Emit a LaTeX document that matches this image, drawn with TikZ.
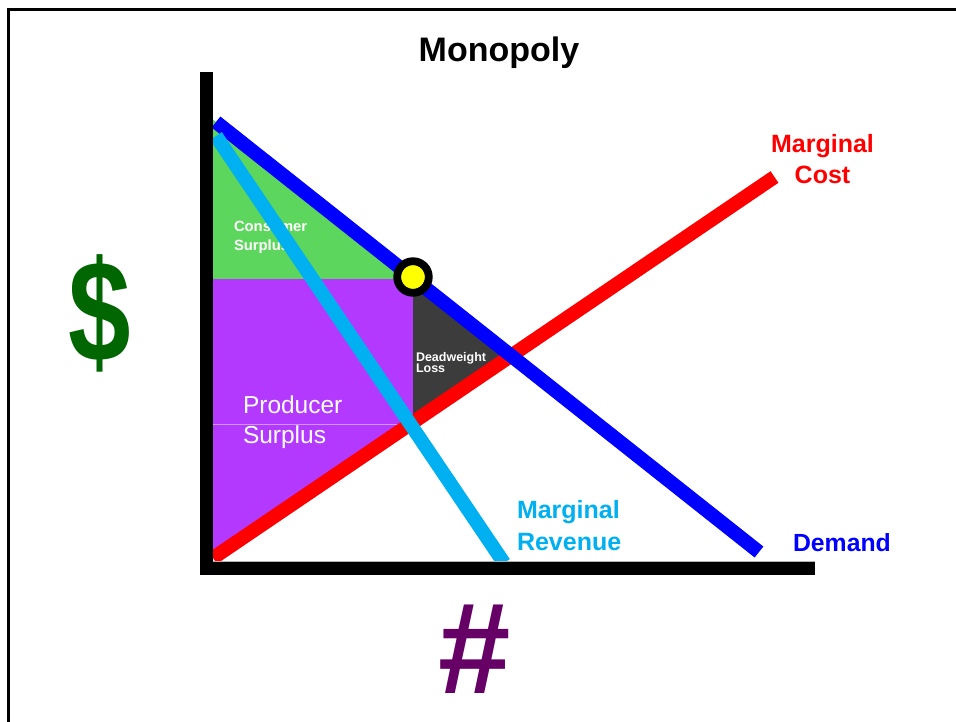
\documentclass[tikz,border=0pt]{standalone}
\usepackage{fontspec}
\setmainfont{Liberation Sans}
\definecolor{demandblue}{RGB}{0,0,255}
\definecolor{mrblue}{RGB}{0,176,240}
\definecolor{mcred}{RGB}{255,0,0}
\definecolor{csgreen}{RGB}{92,214,92}
\definecolor{pspurple}{RGB}{179,57,255}
\definecolor{dwgray}{RGB}{60,60,60}
\definecolor{dollargreen}{RGB}{0,102,0}
\definecolor{hashpurple}{RGB}{102,0,102}
\definecolor{dotyellow}{RGB}{255,255,0}
\definecolor{lavender}{RGB}{205,150,255}
\tikzset{
  curve/.style={line width=14pt, line cap=butt},
  lbl/.style={inner sep=0pt, outer sep=0pt},
  axisbar/.style={fill=black},
}
\begin{document}
\begin{tikzpicture}[x=1pt,y=-1pt]
\useasboundingbox (0,0) rectangle (956,721);
\fill[white] (0,0) rectangle (956,721);
% frame
\draw[line width=2.6pt, black] (8.7,725) -- (8.7,9.5) -- (960,9.5);

% key points
\coordinate (dA) at (216,122);
\coordinate (dB) at (759,552);
\coordinate (mrA) at (216,136);
\coordinate (mrB) at (504,563);
\coordinate (mcA) at (213,558);
\coordinate (mcB) at (774.5,177);
\coordinate (eq) at (413,277);
\coordinate (dwX) at (511.1,355.7);

% regions
\fill[csgreen] (213,119.6) -- (415.5,279) -- (213,279) -- cycle;
\fill[pspurple] (213,279) -- (413,279) -- (413,422.3) -- (213,558) -- cycle;
\fill[dwgray] (413,278) -- (dwX) -- (413,422.3) -- cycle;
\draw[lavender, line width=0.8pt] (213,424) -- (409,424);

% region labels
\node[lbl, anchor=base west, text=white, font=\fontsize{14.8}{18}\selectfont\bfseries] (cs1) at (234,231) {Consumer};
\node[lbl, anchor=base west, text=white, font=\fontsize{14.8}{18}\selectfont\bfseries] (cs2) at (234,250) {Surplus};
\node[lbl, anchor=base west, text=white, font=\fontsize{12.5}{13}\selectfont\bfseries] (dw1) at (416,361) {Deadweight};
\node[lbl, anchor=base west, text=white, font=\fontsize{12.5}{13}\selectfont\bfseries] (dw2) at (416,372) {Loss};
\node[lbl, anchor=base west, text=white, font=\fontsize{24.5}{28}\selectfont] (ps1) at (243,413) {Producer};
\node[lbl, anchor=base west, text=white, font=\fontsize{24.5}{28}\selectfont] (ps2) at (243,443) {Surplus};

% curves
\draw[curve, mcred] (mcA) -- (mcB);
\draw[curve, demandblue] (dA) -- (dB);
\draw[curve, mrblue] (mrA) -- (mrB);

% axes
\fill[axisbar] (200,72) rectangle (213,575);
\fill[axisbar] (200,562) rectangle (815,575);
\draw[gray!60, line width=0.8pt] (213,561.6) -- (815,561.6);

% equilibrium dot
\draw[line width=7.8pt, black, fill=dotyellow] (eq) circle[radius=15.8];

% curve labels
\node[lbl, anchor=base, text=mcred, font=\fontsize{25}{30}\selectfont\bfseries] (mc1) at (822.5,152) {Marginal};
\node[lbl, anchor=base, text=mcred, font=\fontsize{25}{30}\selectfont\bfseries] (mc2) at (822.5,183) {Cost};
\node[lbl, anchor=base west, text=mrblue, font=\fontsize{25}{30}\selectfont\bfseries] (mr1) at (517,518) {Marginal};
\node[lbl, anchor=base west, text=mrblue, font=\fontsize{25}{30}\selectfont\bfseries] (mr2) at (517,550) {Revenue};
\node[lbl, anchor=base west, text=demandblue, font=\fontsize{24.8}{30}\selectfont\bfseries] (dl) at (793,551) {Demand};

% title and axis symbols
\node[lbl, anchor=base, font=\fontsize{34}{40}\selectfont\bfseries] (title) at (499,61) {Monopoly};
\node[lbl, anchor=base, text=dollargreen, font=\fontsize{144}{150}\selectfont\bfseries, xscale=0.78] (dollar) at (100,361) {\$};
\node[lbl, anchor=base, text=hashpurple, font=\fontsize{130}{140}\selectfont\bfseries] (hash) at (475,693) {\#};
\end{tikzpicture}
\end{document}
